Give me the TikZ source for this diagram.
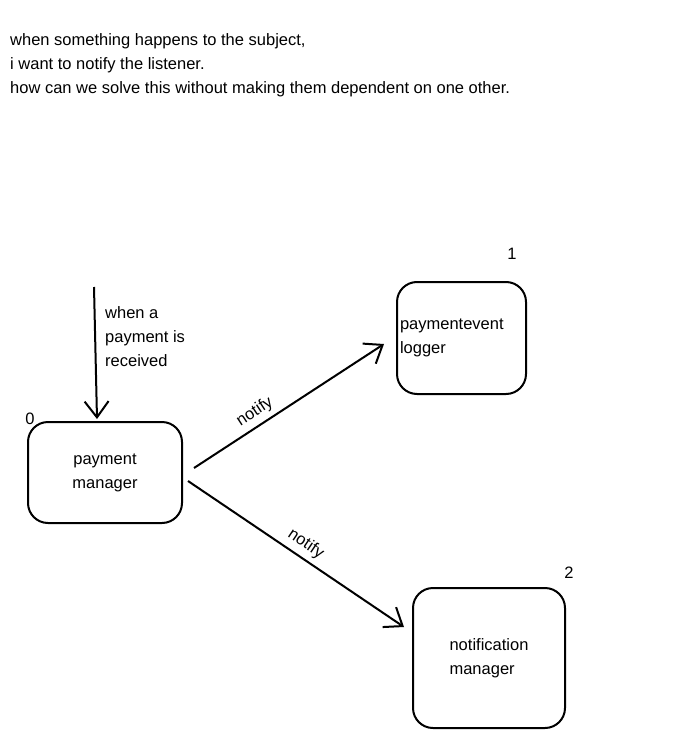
\documentclass[tikz,border=0pt]{standalone}
\usepackage{fontspec}
\setmainfont{Liberation Sans}
\usepackage{tikz}
\usetikzlibrary{arrows.meta,positioning,calc}

\begin{document}
\begin{tikzpicture}[
  x=1pt, y=-1pt,
  box/.style={draw, rounded corners=20pt, line width=2pt,
              inner xsep=3pt, font=\fontsize{16.5}{24}\selectfont},
  num/.style={font=\fontsize{16.5}{18}\selectfont, inner sep=0pt},
  note/.style={align=left, inner sep=0pt, font=\fontsize{16.5}{24}\selectfont},
  arr/.style={-{Straight Barb[length=16pt,width=24pt,line width=2pt]}, line width=2pt},
  lab/.style={font=\fontsize{16.5}{18}\selectfont, inner sep=5pt}
]
\useasboundingbox (0,0) rectangle (694,738);

% problem statement
\node[note, anchor=north west] (intro) at (10,33) {when something happens to the subject,\\
i want to notify the listener.\\
how can we solve this without making them dependent on one other.};

% subject and listeners
\node[box, minimum width=154pt, minimum height=101pt, align=center] (pm) at (105,472.5) {payment\\manager};
\node[box, minimum width=129pt, minimum height=112pt, text width=123pt, align=left] (lg) at (461.5,338) {paymentevent\\logger};
\node[box, minimum width=152pt, minimum height=140pt, align=left] (nm) at (489,658) {notification\\manager};

% numbers
\node[num] (n0) at ([shift={(3,-2)}]pm.north west) {0};
\node[num] (n1) at ([shift={(-15,-27)}]lg.north east) {1};
\node[num] (n2) at ([shift={(3,-14)}]nm.north east) {2};

% incoming event
\coordinate (src) at (94,287);
\draw[arr] (src) -- ([shift={(-8,-2)}]pm.north);
\node[note, anchor=north west] (evt) at (105,306) {when a\\payment is\\received};

% notifications
\draw[arr] ([shift={(11,-4.5)}]pm.east) -- node[lab, sloped, above, pos=0.36]{notify} ([shift={(-12,6)}]lg.west);
\draw[arr] ([shift={(5,8.5)}]pm.east) -- node[lab, sloped, above, pos=0.51]{notify} ([shift={(-8,-31)}]nm.west);
\end{tikzpicture}
\end{document}
